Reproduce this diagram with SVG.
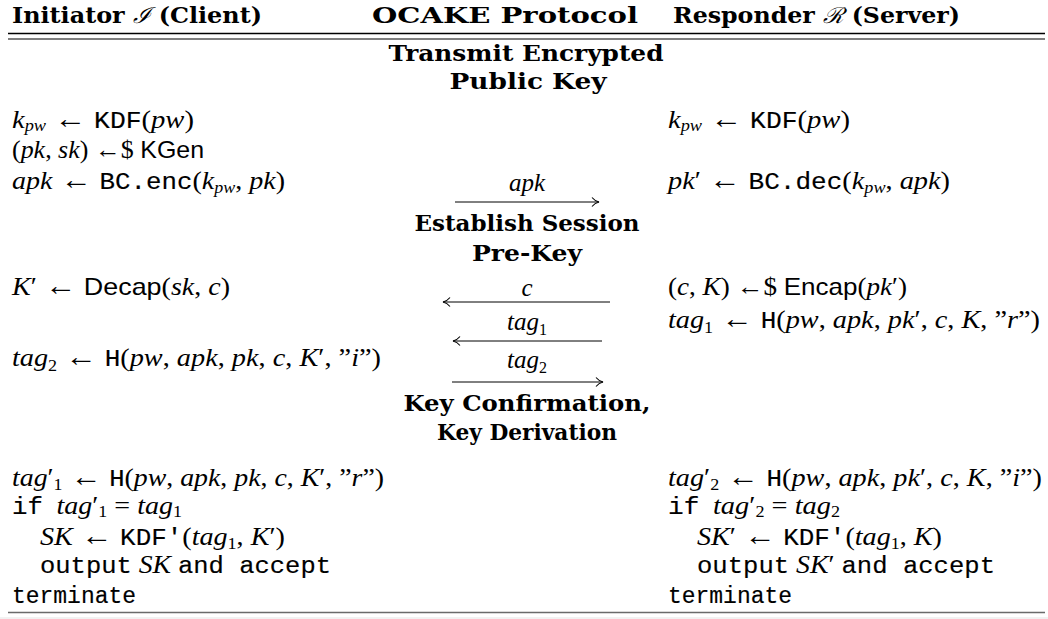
<svg xmlns="http://www.w3.org/2000/svg" width="1048" height="619" viewBox="0 0 1048 619">
<style>
text{fill:#000}
.b{font-family:"DejaVu Serif",serif;font-weight:bold;font-size:22px}
.m{font-family:"Liberation Serif",serif;font-size:25px}
.i{font-style:italic}
.t{font-family:"Liberation Mono",monospace;font-size:23px;stroke:#000;stroke-width:0.15}
.s{font-family:"Liberation Sans",sans-serif;font-size:24px}
.ar{font-family:"Liberation Serif",serif;font-size:28px}
.ar2{font-family:"Liberation Serif",serif;font-size:25px}
.u{font-size:16px}
.c{text-anchor:middle}
.cal{font-family:"DejaVu Serif",serif;font-weight:normal;font-style:italic}
.rule{stroke:#000;fill:none}
.arr{stroke:#000;stroke-width:1;fill:none;marker-end:url(#ah)}
</style>
<defs>
<marker id="ah" viewBox="-10 -6 12 12" refX="0" refY="0" markerWidth="12" markerHeight="12" markerUnits="userSpaceOnUse" orient="auto">
<path d="M-7,-4.5 C-5,-2 -2,-0.5 0,0 C-2,0.5 -5,2 -7,4.5" fill="none" stroke="#000" stroke-width="1.1"/>
</marker>
</defs>
<rect width="1048" height="619" fill="#fff"/>

<g id="header">
<text class="b" x="12" y="23" textLength="250" lengthAdjust="spacingAndGlyphs">Initiator <tspan class="cal">ℐ</tspan> (Client)</text>
<text class="b" x="372" y="23" textLength="266" lengthAdjust="spacingAndGlyphs">OCAKE Protocol</text>
<text class="b" x="673" y="23" textLength="287" lengthAdjust="spacingAndGlyphs">Responder <tspan class="cal">ℛ</tspan> (Server)</text>
</g>
<g id="rules">
<line class="rule" x1="8" y1="33.5" x2="1045" y2="33.5" stroke-width="1.3"/>
<line class="rule" x1="8" y1="39" x2="1045" y2="39" stroke-width="1.1"/>
<line x1="8" y1="612.5" x2="1045" y2="612.5" stroke="#6a6a6a" stroke-width="1.7"/>
<line x1="0" y1="618" x2="1048" y2="618" stroke="#e4e4e4" stroke-width="1"/>
</g>

<g id="sec-transmit">
<text class="b c" x="526" y="61" textLength="275" lengthAdjust="spacingAndGlyphs">Transmit Encrypted</text>
<text class="b c" x="528" y="89" textLength="157" lengthAdjust="spacingAndGlyphs">Public Key</text>
</g>

<g id="init-kdf">
<text class="m" x="12" y="128" textLength="182" lengthAdjust="spacingAndGlyphs"><tspan class="i">k</tspan><tspan class="i u" dy="3">pw</tspan><tspan dy="-3" class="ar"> ← </tspan><tspan class="t">KDF</tspan>(<tspan class="i">pw</tspan>)</text>
</g>
<g id="init-kgen">
<text class="m" x="12" y="158" textLength="192" lengthAdjust="spacingAndGlyphs">(<tspan class="i">pk</tspan>, <tspan class="i">sk</tspan>) <tspan class="ar2">←</tspan>$ <tspan class="s">KGen</tspan></text>
</g>
<g id="init-enc">
<text class="m" x="12" y="189" textLength="273" lengthAdjust="spacingAndGlyphs"><tspan class="i">apk</tspan><tspan class="ar"> ← </tspan><tspan class="t">BC.enc</tspan>(<tspan class="i">k</tspan><tspan class="i u" dy="4">pw</tspan><tspan dy="-4">, </tspan><tspan class="i">pk</tspan>)</text>
</g>
<g id="resp-kdf">
<text class="m" x="668" y="128" textLength="182" lengthAdjust="spacingAndGlyphs"><tspan class="i">k</tspan><tspan class="i u" dy="3">pw</tspan><tspan dy="-3" class="ar"> ← </tspan><tspan class="t">KDF</tspan>(<tspan class="i">pw</tspan>)</text>
</g>
<g id="resp-dec">
<text class="m" x="668" y="189" textLength="282" lengthAdjust="spacingAndGlyphs"><tspan class="i">pk</tspan>′<tspan class="ar"> ← </tspan><tspan class="t">BC.dec</tspan>(<tspan class="i">k</tspan><tspan class="i u" dy="4">pw</tspan><tspan dy="-4">, </tspan><tspan class="i">apk</tspan>)</text>
</g>
<g id="msg-apk">
<text class="m i c" x="527" y="191">apk</text>
</g>

<g id="sec-establish">
<text class="b c" x="527" y="231" textLength="225" lengthAdjust="spacingAndGlyphs">Establish Session</text>
<text class="b c" x="527" y="261" textLength="110" lengthAdjust="spacingAndGlyphs">Pre-Key</text>
</g>

<g id="init-decap">
<text class="m" x="12" y="295" textLength="218" lengthAdjust="spacingAndGlyphs"><tspan class="i">K</tspan>′<tspan class="ar"> ← </tspan><tspan class="s">Decap</tspan>(<tspan class="i">sk</tspan>, <tspan class="i">c</tspan>)</text>
</g>
<g id="resp-encap">
<text class="m" x="668" y="295" textLength="239" lengthAdjust="spacingAndGlyphs">(<tspan class="i">c</tspan>, <tspan class="i">K</tspan>) <tspan class="ar2">←</tspan>$ <tspan class="s">Encap</tspan>(<tspan class="i">pk</tspan>′)</text>
</g>
<g id="msg-c">
<text class="m i c" x="527" y="296">c</text>
</g>
<g id="resp-tag1">
<text class="m" x="668" y="328" textLength="372" lengthAdjust="spacingAndGlyphs"><tspan class="i">tag</tspan><tspan class="u" dy="5">1</tspan><tspan dy="-5" class="ar"> ← </tspan><tspan class="t">H</tspan>(<tspan class="i">pw</tspan>, <tspan class="i">apk</tspan>, <tspan class="i">pk</tspan>′, <tspan class="i">c</tspan>, <tspan class="i">K</tspan>, ”<tspan class="i">r</tspan>”)</text>
</g>
<g id="msg-tag1">
<text class="m c" x="527" y="330"><tspan class="i">tag</tspan><tspan class="u" dy="5">1</tspan></text>
</g>
<g id="init-tag2">
<text class="m" x="12" y="366" textLength="369" lengthAdjust="spacingAndGlyphs"><tspan class="i">tag</tspan><tspan class="u" dy="5">2</tspan><tspan dy="-5" class="ar"> ← </tspan><tspan class="t">H</tspan>(<tspan class="i">pw</tspan>, <tspan class="i">apk</tspan>, <tspan class="i">pk</tspan>, <tspan class="i">c</tspan>, <tspan class="i">K</tspan>′, ”<tspan class="i">i</tspan>”)</text>
</g>
<g id="msg-tag2">
<text class="m c" x="527" y="368"><tspan class="i">tag</tspan><tspan class="u" dy="5">2</tspan></text>
</g>

<g id="sec-confirm">
<text class="b c" x="527" y="411" textLength="247" lengthAdjust="spacingAndGlyphs">Key Confirmation,</text>
<text class="b c" x="527" y="440" textLength="180" lengthAdjust="spacingAndGlyphs">Key Derivation</text>
</g>

<g id="init-final">
<text class="m" x="12" y="486" textLength="372" lengthAdjust="spacingAndGlyphs"><tspan class="i">tag</tspan>′<tspan class="u" dy="4">1</tspan><tspan dy="-4" class="ar"> ← </tspan><tspan class="t">H</tspan>(<tspan class="i">pw</tspan>, <tspan class="i">apk</tspan>, <tspan class="i">pk</tspan>, <tspan class="i">c</tspan>, <tspan class="i">K</tspan>′, ”<tspan class="i">r</tspan>”)</text>
<text class="m" x="12" y="514" textLength="170" lengthAdjust="spacingAndGlyphs"><tspan class="t">if</tspan><tspan class="i" dx="12">tag</tspan>′<tspan class="u" dy="3">1</tspan><tspan dy="-3"> = </tspan><tspan class="i">tag</tspan><tspan class="u" dy="3">1</tspan></text>
<text class="m" x="40" y="545" textLength="245" lengthAdjust="spacingAndGlyphs"><tspan class="i">SK</tspan><tspan class="ar"> ← </tspan><tspan class="t">KDF′</tspan>(<tspan class="i">tag</tspan><tspan class="u" dy="4">1</tspan><tspan dy="-4">, </tspan><tspan class="i">K</tspan>′)</text>
<text class="m" x="40" y="573" textLength="291" lengthAdjust="spacingAndGlyphs"><tspan class="t">output</tspan> <tspan class="i">SK</tspan> <tspan class="t">and accept</tspan></text>
<text class="t" x="12" y="603" textLength="124" lengthAdjust="spacingAndGlyphs">terminate</text>
</g>
<g id="resp-final">
<text class="m" x="668" y="486" textLength="374" lengthAdjust="spacingAndGlyphs"><tspan class="i">tag</tspan>′<tspan class="u" dy="4">2</tspan><tspan dy="-4" class="ar"> ← </tspan><tspan class="t">H</tspan>(<tspan class="i">pw</tspan>, <tspan class="i">apk</tspan>, <tspan class="i">pk</tspan>′, <tspan class="i">c</tspan>, <tspan class="i">K</tspan>, ”<tspan class="i">i</tspan>”)</text>
<text class="m" x="668" y="514" textLength="172" lengthAdjust="spacingAndGlyphs"><tspan class="t">if</tspan><tspan class="i" dx="12">tag</tspan>′<tspan class="u" dy="3">2</tspan><tspan dy="-3"> = </tspan><tspan class="i">tag</tspan><tspan class="u" dy="3">2</tspan></text>
<text class="m" x="697" y="545" textLength="245" lengthAdjust="spacingAndGlyphs"><tspan class="i">SK</tspan>′<tspan class="ar"> ← </tspan><tspan class="t">KDF′</tspan>(<tspan class="i">tag</tspan><tspan class="u" dy="4">1</tspan><tspan dy="-4">, </tspan><tspan class="i">K</tspan>)</text>
<text class="m" x="697" y="573" textLength="298" lengthAdjust="spacingAndGlyphs"><tspan class="t">output</tspan> <tspan class="i">SK</tspan>′ <tspan class="t">and accept</tspan></text>
<text class="t" x="668" y="603" textLength="124" lengthAdjust="spacingAndGlyphs">terminate</text>
</g>

<g id="connectors">
<path class="arr" d="M455,202 H599"/>
<path class="arr" d="M610,302 H443"/>
<path class="arr" d="M602,341 H453"/>
<path class="arr" d="M452,382 H603"/>
</g>
</svg>
